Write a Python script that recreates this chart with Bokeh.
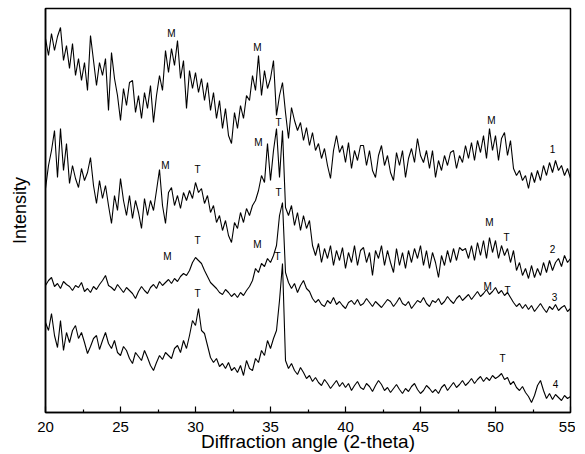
import numpy as np
from bokeh.plotting import figure
from bokeh.models import ColumnDataSource, Range1d, FixedTicker
from bokeh.core.properties import value
from bokeh.embed import file_html
from bokeh.resources import INLINE

# diffraction angle grid (2-theta, degrees), 0.2 deg steps
two_theta = np.linspace(20.0, 55.0, 176)

# intensities (arbitrary units, curves already offset as in the figure)
pattern_1 = [
    374, 357, 379, 362, 376, 385, 352, 367, 344, 369,
    337, 354, 332, 350, 322, 377, 352, 327, 350, 337,
    354, 302, 360, 334, 317, 292, 324, 307, 330, 332,
    300, 317, 294, 320, 304, 327, 290, 317, 337, 322,
    362, 340, 364, 347, 372, 334, 352, 304, 342, 324,
    340, 320, 334, 312, 330, 302, 320, 294, 312, 284,
    304, 277, 269, 300, 284, 307, 294, 317, 312, 337,
    322, 357, 317, 342, 324, 334, 352, 297, 317, 330,
    300, 274, 305, 292, 282, 290, 272, 285, 267, 280,
    262, 269, 254, 264, 247, 234, 262, 277, 260, 267,
    250, 270, 244, 262, 252, 267, 267, 247, 262, 242,
    235, 257, 267, 247, 257, 240, 232, 260, 247, 262,
    235, 254, 264, 250, 274, 257, 250, 262, 244, 262,
    235, 252, 242, 257, 247, 260, 262, 244, 257, 250,
    267, 254, 270, 252, 272, 260, 277, 254, 284, 262,
    277, 252, 274, 280, 257, 272, 244, 237, 242, 232,
    237, 224, 240, 230, 242, 232, 247, 237, 250, 240,
    252, 242, 247, 237, 244, 234,
]
pattern_2 = [
    224, 247, 262, 282, 235, 284, 242, 269, 229, 247,
    234, 225, 244, 232, 240, 255, 227, 209, 232, 214,
    227, 207, 189, 217, 202, 234, 212, 197, 217, 194,
    212, 200, 184, 214, 197, 212, 202, 222, 243, 207,
    189, 220, 225, 207, 217, 204, 220, 212, 222, 214,
    230, 220, 224, 209, 217, 200, 207, 190, 197, 182,
    192, 177, 170, 190, 184, 200, 190, 204, 197, 207,
    212, 222, 237, 230, 269, 232, 262, 284, 235, 282,
    205, 197, 207, 187, 200, 182, 197, 184, 192, 167,
    157, 169, 150, 164, 154, 167, 147, 162, 152, 165,
    144, 160, 150, 167, 147, 162, 165, 150, 160, 137,
    162, 154, 167, 147, 162, 150, 140, 164, 147, 160,
    144, 162, 150, 164, 154, 167, 147, 162, 144, 160,
    150, 135, 157, 147, 162, 150, 164, 152, 165, 162,
    164, 154, 167, 152, 170, 157, 172, 154, 175, 160,
    172, 154, 167, 157, 164, 150, 162, 142, 150, 137,
    144, 134, 147, 135, 144, 137, 150, 140, 152, 142,
    150, 154, 146, 157, 150, 154,
]
pattern_3 = [
    127, 132, 135, 126, 129, 124, 131, 128, 126, 122,
    127, 125, 130, 121, 124, 120, 126, 123, 128, 132,
    137, 127, 125, 122, 128, 124, 120, 125, 122, 119,
    114, 121, 126, 122, 119, 125, 128, 124, 131, 127,
    130, 133, 129, 134, 131, 136, 139, 137, 142, 150,
    155, 152, 149, 142, 136, 130, 127, 124, 120, 118,
    123, 120, 116, 119, 115, 120, 117, 122, 126, 132,
    144, 140, 149, 146, 154, 150, 157, 167, 197, 210,
    140, 130, 124, 129, 120, 127, 132, 124, 121, 114,
    110, 113, 108, 106, 112, 109, 115, 108, 111, 107,
    104, 110, 112, 108, 113, 107, 109, 114, 110, 106,
    111, 108, 105, 109, 113, 111, 106, 110, 115, 109,
    107, 111, 104, 108, 112, 110, 115, 109, 106, 112,
    110, 114, 108, 111, 116, 112, 109, 114, 117, 112,
    115, 118, 113, 117, 121, 116, 119, 123, 118, 121,
    125, 119, 122, 117, 120, 115, 110, 106, 109, 104,
    108, 103, 107, 101, 105, 109, 104, 100, 106, 103,
    108, 102, 105, 107, 101, 104,
]
pattern_4 = [
    90, 82, 99, 77, 65, 92, 62, 80, 70, 82,
    87, 74, 80, 70, 59, 66, 74, 77, 63, 72,
    80, 69, 64, 72, 60, 57, 66, 62, 54, 49,
    60, 56, 52, 62, 55, 47, 42, 50, 57, 53,
    60, 57, 54, 64, 67, 60, 72, 64, 77, 92,
    87, 104, 82, 79, 67, 55, 50, 54, 46, 49,
    44, 50, 42, 45, 40, 47, 37, 52, 44, 42,
    54, 50, 62, 57, 72, 64, 74, 82, 112, 149,
    52, 44, 49, 42, 38, 45, 40, 34, 37, 31,
    35, 30, 27, 33, 29, 24, 28, 32, 26, 30,
    25, 29, 22, 27, 31, 25, 23, 29, 26, 21,
    27, 32, 28, 22, 25, 20, 24, 28, 23, 19,
    24, 21, 26, 29, 23, 19, 22, 27, 24, 20,
    23, 19, 25, 28, 22, 26, 30, 25, 28, 32,
    27, 30, 34, 29, 33, 36, 31, 35, 32, 37,
    34, 36, 39, 33, 35, 28, 31, 25, 22, 26,
    20, 16, 10, 17, 27, 32, 22, 14, 19, 13,
    18, 15, 12, 17, 14, 16,
]

# phase labels (M = monoclinic, T = tetragonal) and sample numbers
label_x = [28.4, 34.13, 49.73, 53.8,
           28.0, 30.13, 34.2, 35.53, 49.6, 50.73, 53.8,
           28.13, 30.13, 34.13, 35.53, 49.47, 50.8, 53.93,
           30.13, 35.47, 50.47, 54.0]
label_y = [379, 365, 292, 264,
           247, 243, 270, 290, 190, 175, 164,
           156, 172, 168, 220, 126, 122, 116,
           119, 156, 54, 29]
label_text = ["M", "M", "M", "1",
              "M", "T", "M", "T", "M", "T", "2",
              "M", "T", "M", "T", "M", "T", "3",
              "T", "T", "T", "4"]

x_major = [20, 25, 30, 35, 40, 45, 50, 55]
x_minor = [22.5, 27.5, 32.5, 37.5, 42.5, 47.5, 52.5]

FONT = "Liberation Sans"

p = figure(frame_width=525, frame_height=404,
           x_range=Range1d(20, 55), y_range=Range1d(0, 404),
           output_backend="svg", toolbar_location=None,
           min_border_left=45, min_border_right=5, min_border_top=8,
           min_border_bottom=0)

p.xgrid.visible = False
p.ygrid.visible = False
p.outline_line_color = "black"
p.outline_line_width = 1.5
p.background_fill_color = "white"
p.border_fill_color = "white"

for ys in (pattern_1, pattern_2, pattern_3, pattern_4):
    src = ColumnDataSource(dict(x=two_theta, y=ys))
    p.line("x", "y", source=src, line_color="black", line_width=1.1)

lab_src = ColumnDataSource(dict(x=label_x, y=label_y, t=label_text))
p.text("x", "y", text="t", source=lab_src, text_font=value(FONT),
       text_font_size="10px", text_align="center", text_baseline="middle",
       text_color="black")

xa = p.xaxis[0]
xa.ticker = FixedTicker(ticks=x_major, minor_ticks=x_minor)
xa.major_tick_in = 6
xa.major_tick_out = 0
xa.minor_tick_in = 3
xa.minor_tick_out = 0
xa.axis_line_width = 1.5
xa.major_tick_line_width = 1.2
xa.minor_tick_line_width = 1.2
xa.major_label_text_font = FONT
xa.major_label_text_font_size = "15px"
xa.major_label_text_color = "black"
xa.major_label_standoff = 9
xa.axis_label = "Diffraction angle (2-theta)"
xa.axis_label_text_font = FONT
xa.axis_label_text_font_size = "19px"
xa.axis_label_text_font_style = "normal"
xa.axis_label_text_color = "black"
xa.axis_label_standoff = -4

ya = p.yaxis[0]
ya.ticker = FixedTicker(ticks=[])
ya.major_label_text_font_size = "0px"
ya.major_tick_line_color = None
ya.minor_tick_line_color = None
ya.axis_line_width = 1.5
ya.axis_label = "Intensity"
ya.axis_label_text_font = FONT
ya.axis_label_text_font_size = "18px"
ya.axis_label_text_font_style = "normal"
ya.axis_label_text_color = "black"
ya.axis_label_standoff = 16

open("out.html", "w").write(file_html(p, INLINE))
